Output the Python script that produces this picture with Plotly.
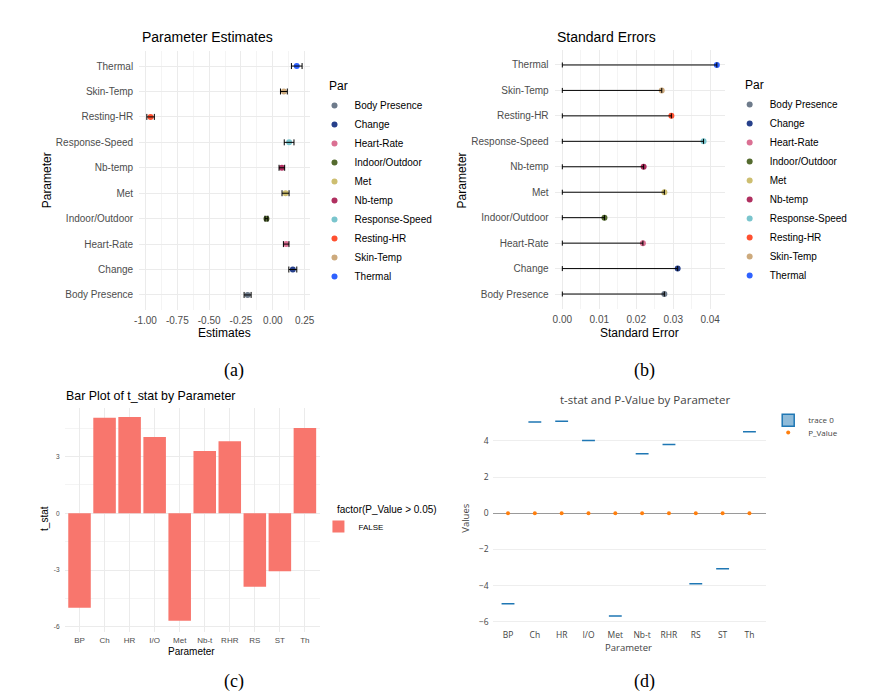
import plotly.graph_objects as go

W, H = 869, 698
OFF = 8  # page body margin that shifts the figure

# parameter table
params = ["Body Presence", "Change", "Heart-Rate", "Indoor/Outdoor", "Met",
          "Nb-temp", "Response-Speed", "Resting-HR", "Skin-Temp", "Thermal"]
estimates = [-0.198, 0.157, 0.105, -0.050, 0.100, 0.071, 0.128, -0.960, 0.087, 0.188]
std_errors = [0.0276, 0.0312, 0.0218, 0.0114, 0.0276, 0.0220, 0.0382, 0.0295, 0.0269, 0.0418]
par_colors = ["#6E7B8B", "#27408B", "#DB7093", "#556B2F", "#CDBE70",
              "#B03060", "#7AC5CD", "#FF5030", "#CDAA7D", "#2F62FF"]

short_names = ["BP", "Ch", "HR", "I/O", "Met", "Nb-t", "RHR", "RS", "ST", "Th"]
t_stat = [-5.00, 5.05, 5.09, 4.03, -5.68, 3.29, 3.81, -3.89, -3.07, 4.51]
p_value = [0.000001, 0.0000007, 0.0000006, 0.00008, 0.00000003,
           0.0011, 0.00016, 0.00012, 0.0023, 0.000009]

est_ticks = [-1.0, -0.75, -0.5, -0.25, 0.0, 0.25]
est_labels = ["-1.00", "-0.75", "-0.50", "-0.25", "0.00", "0.25"]
se_ticks = [0.0, 0.01, 0.02, 0.03, 0.04]
se_labels = ["0.00", "0.01", "0.02", "0.03", "0.04"]
t_ticks = [-6, -3, 0, 3]
t_labels = ["-6", "-3", "0", "3"]

GG = "Liberation Sans, Arial, sans-serif"
PL = "Open Sans, sans-serif"
SERIF = "Liberation Serif, Times New Roman, serif"


def xd(left, right):
    return [(left - OFF) / W, (right - OFF) / W]


def yd(top, bottom):
    return [1 - (bottom - OFF) / H, 1 - (top - OFF) / H]


def px(x, y):
    return (x - OFF) / W, 1 - (y - OFF) / H


fig = go.Figure()

# (a) estimates with +/- SE bars
for name, est, col in zip(params, estimates, par_colors):
    fig.add_trace(go.Scatter(x=[est], y=[name], mode="markers", name=name,
                             marker=dict(color=col, size=6), legend="legend",
                             xaxis="x", yaxis="y"))
fig.add_trace(go.Scatter(x=estimates, y=params, mode="markers", showlegend=False,
                         marker=dict(color="rgba(0,0,0,0)", size=6),
                         error_x=dict(type="data", array=std_errors, color="black",
                                      thickness=1, width=3),
                         hoverinfo="skip", xaxis="x", yaxis="y"))

# (b) standard errors, bar from 0 to SE
for name, se, col in zip(params, std_errors, par_colors):
    fig.add_trace(go.Scatter(x=[se], y=[name], mode="markers", name=name,
                             marker=dict(color=col, size=6), legend="legend2",
                             xaxis="x2", yaxis="y2"))
fig.add_trace(go.Scatter(x=[s / 2 for s in std_errors], y=params, mode="markers",
                         showlegend=False, marker=dict(color="rgba(0,0,0,0)", size=6),
                         error_x=dict(type="data", array=[s / 2 for s in std_errors],
                                      color="black", thickness=1, width=2.5),
                         hoverinfo="skip", xaxis="x2", yaxis="y2"))

# (c) bar plot
fig.add_trace(go.Bar(x=short_names, y=t_stat, name="FALSE", width=0.9,
                     marker=dict(color="#F8766D", line=dict(width=0)),
                     legend="legend3", xaxis="x3", yaxis="y3"))

# (d) plotly box + p-values
fig.add_trace(go.Box(x=short_names, y=t_stat, name="trace 0", width=0.48,
                     line=dict(color="#1f77b4", width=1.5), boxpoints=False,
                     legend="legend4", xaxis="x4", yaxis="y4"))
fig.add_trace(go.Scatter(x=short_names, y=p_value, mode="markers", name="P_Value",
                         marker=dict(color="#ff7f0e", size=4),
                         legend="legend5", xaxis="x4", yaxis="y4"))

grid = "#EBEBEB"
minor_grid = "#F4F4F4"
tick_gray = "#4D4D4D"

cat_axis = dict(type="category", categoryorder="array", categoryarray=params,
                range=[-0.6, 9.6], showgrid=True, gridcolor=grid, gridwidth=0.8,
                zeroline=False, showline=False, ticks="", ticklabelstandoff=5,
                tickfont=dict(family=GG, size=10, color=tick_gray))

fig.update_layout(
    width=W, height=H, margin=dict(l=0, r=0, t=0, b=0),
    paper_bgcolor="white", plot_bgcolor="white",
    font=dict(family=GG, color="black"), showlegend=True,
    xaxis=dict(domain=xd(135.6, 308.2), range=[-1.05, 0.29], anchor="y",
               tickvals=est_ticks, ticktext=est_labels, showgrid=True,
               gridcolor=grid, gridwidth=0.8, zeroline=False, ticks="",
               ticklabelstandoff=3, tickfont=dict(family=GG, size=10, color=tick_gray),
               minor=dict(dtick=0.125, tick0=0, showgrid=True, gridcolor=minor_grid,
                          gridwidth=0.6)),
    yaxis=dict(domain=yd(50.8, 310.2), anchor="x", **cat_axis),
    xaxis2=dict(domain=xd(555.9, 727.9), range=[-0.00209, 0.0439], anchor="y2",
                tickvals=se_ticks, ticktext=se_labels, showgrid=True,
                gridcolor=grid, gridwidth=0.8, zeroline=False, ticks="",
                ticklabelstandoff=3, tickfont=dict(family=GG, size=10, color=tick_gray),
                minor=dict(dtick=0.005, tick0=0, showgrid=True, gridcolor=minor_grid,
                           gridwidth=0.6)),
    yaxis2=dict(domain=yd(49.7, 309.3), anchor="x2", **cat_axis),
    xaxis3=dict(domain=xd(60.1, 318.5), range=[-0.6, 9.6], anchor="y3",
                type="category", showgrid=True, gridcolor=grid, gridwidth=0.8,
                zeroline=False, ticks="", ticklabelstandoff=2,
                tickfont=dict(family=GG, size=8, color=tick_gray)),
    yaxis3=dict(domain=yd(408, 632), range=[-6.28, 5.57], anchor="x3",
                tickvals=t_ticks, ticktext=t_labels, showgrid=True, gridcolor=grid,
                gridwidth=0.8, zeroline=False, ticks="", ticklabelstandoff=4,
                tickfont=dict(family=GG, size=6.5, color=tick_gray),
                minor=dict(dtick=1.5, tick0=0, showgrid=True, gridcolor=minor_grid,
                           gridwidth=0.6)),
    xaxis4=dict(domain=xd(493.3, 769.3), range=[-0.57, 9.6], anchor="y4",
                type="category", showgrid=False, zeroline=False, ticks="",
                ticklabelstandoff=2, tickfont=dict(family=PL, size=8.5, color="#444")),
    yaxis4=dict(domain=yd(411.3, 626.3), range=[-6.25, 5.64], anchor="x4",
                dtick=2, showgrid=True, gridcolor="#EEEEEE", gridwidth=1,
                zeroline=True, zerolinecolor="#9A9A9A", zerolinewidth=1.2,
                ticks="", ticklabelstandoff=3,
                tickfont=dict(family=PL, size=8.5, color="#444")),
    boxmode="overlay",
)

leg_common = dict(xanchor="left", yanchor="top", bgcolor="rgba(0,0,0,0)",
                  borderwidth=0, itemwidth=30, traceorder="normal")
lx, ly = px(313, 91)
fig.update_layout(legend=dict(x=lx, y=ly, font=dict(family=GG, size=10, color="black"),
                              **leg_common))
lx, ly = px(733, 90)
fig.update_layout(legend2=dict(x=lx, y=ly, font=dict(family=GG, size=10, color="black"),
                               **leg_common))
lx, ly = px(317, 512)
fig.update_layout(legend3=dict(x=lx, y=ly, font=dict(family=GG, size=8, color="black"),
                               **leg_common))
lx, ly = px(772, 405.7)
fig.update_layout(legend4=dict(x=lx, y=ly, font=dict(family=PL, size=8, color="#444"),
                               **leg_common))
lx, ly = px(772, 418)
fig.update_layout(legend5=dict(x=lx, y=ly, font=dict(family=PL, size=8, color="#444"),
                               **leg_common))


def label(text, x, y, size, family=GG, color="black", xanchor="center", angle=0):
    ax, ay = px(x, y)
    fig.add_annotation(text=text, x=ax, y=ay, xref="paper", yref="paper",
                       xanchor=xanchor, yanchor="middle", showarrow=False,
                       textangle=angle, font=dict(family=family, size=size, color=color))


label("Parameter Estimates", 136, 37.3, 14, xanchor="left")
label("Standard Errors", 556, 36.7, 14, xanchor="left")
label("Estimates", 221.8, 333.3, 12)
label("Standard Error", 641.7, 333.3, 12)
label("Parameter", 42.7, 180, 12, angle=-90)
label("Parameter", 462.7, 180, 12, angle=-90)
label("Par", 325.3, 85.7, 12, xanchor="left")
label("Par", 746, 85, 12, xanchor="left")

label("Bar Plot of t_stat by Parameter", 60, 395.7, 12.4, xanchor="left")
label("Parameter", 188.7, 651, 10)
label("t_stat", 40, 518.3, 10, angle=-90)
label("factor(P_Value &gt; 0.05)", 333.3, 509.3, 10, xanchor="left")

label("t-stat and P-Value by Parameter", 647.7, 399, 11.5, family=PL, color="#444")
label("Parameter", 630.7, 647.7, 9.5, family=PL, color="#444")
label("Values", 465, 518, 9.5, family=PL, color="#444", angle=-90)

label("(a)", 232, 370, 18, family=SERIF)
label("(b)", 647, 370, 18, family=SERIF)
label("(c)", 232, 681, 18, family=SERIF)
label("(d)", 647, 681, 18, family=SERIF)

fig.write_html("out.html")
